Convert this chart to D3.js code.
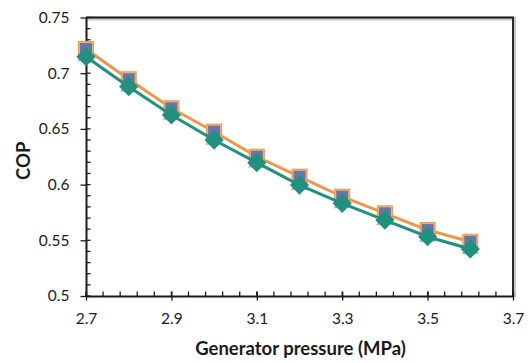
<!DOCTYPE html>
<html><head><meta charset="utf-8">
<script src="https://cdn.jsdelivr.net/npm/d3@7"></script>
<style>body{margin:0;background:#fff}svg{display:block}text{font-family:Lato,"Open Sans",sans-serif;fill:#1a1a1a}</style>
</head><body><svg id="c" width="530" height="363"></svg>
<script>
const pressure = [2.7, 2.8, 2.9, 3.0, 3.1, 3.2, 3.3, 3.4, 3.5, 3.6];
const copOrange = [0.7217, 0.6945, 0.6685, 0.6475, 0.6250, 0.6071, 0.5891, 0.5742, 0.5592, 0.5487];
const copBlue   = [0.7217, 0.6945, 0.6685, 0.6475, 0.6250, 0.6071, 0.5891, 0.5742, 0.5592, 0.5487];
const copGray   = [0.7165, 0.6895, 0.6640, 0.6415, 0.6212, 0.6010, 0.5846, 0.5696, 0.5546, 0.5436];
const copTeal   = [0.7148, 0.6879, 0.6625, 0.6400, 0.6197, 0.5996, 0.5832, 0.5682, 0.5532, 0.5422];
const xTicks = [2.7, 2.9, 3.1, 3.3, 3.5, 3.7];
const yTicks = [0.5, 0.55, 0.6, 0.65, 0.7, 0.75];
const xLabel = "Generator pressure (MPa)";
const yLabel = "COP";

const L = 86, R = 513, T = 17.5, B = 296;
const svg = d3.select("#c");
const x = d3.scaleLinear().domain([2.7, 3.7]).range([L, R]);
const y = d3.scaleLinear().domain([0.5, 0.75]).range([B, T]);

// frame top/right
svg.append("path").attr("d", `M${L},${T}H${R}V${B}`).attr("fill","none").attr("stroke","#c8c8c8").attr("stroke-width",4).attr("transform","translate(1,1)");
svg.append("path").attr("d", `M${L},${T}H${R}V${B}`).attr("fill","none").attr("stroke","#1a1a1a").attr("stroke-width",1.8);

// minor ticks
const xMinor = d3.range(0, 26).map(i => 2.7 + i * 0.04);
svg.append("g").selectAll("line").data(xMinor).join("line")
  .attr("x1", d => x(d)).attr("x2", d => x(d)).attr("y1", B).attr("y2", B - 4.5)
  .attr("stroke", "#1a1a1a").attr("stroke-width", 1.3);
const yMinor = d3.range(0, 26).map(i => 0.5 + i * 0.01);
svg.append("g").selectAll("line").data(yMinor).join("line")
  .attr("x1", L).attr("x2", L + 4.5).attr("y1", d => y(d)).attr("y2", d => y(d))
  .attr("stroke", "#1a1a1a").attr("stroke-width", 1.3);

// axes
const xAxis = svg.append("g").attr("transform", `translate(0,${B})`)
  .call(d3.axisBottom(x).tickValues(xTicks).tickFormat(d3.format(".1f")).tickSizeInner(4.5).tickSizeOuter(0).tickPadding(12));
xAxis.selectAll(".tick line").attr("y1", -4.5).attr("stroke-width", 1.3);
const yAxis = svg.append("g").attr("transform", `translate(${L},0)`)
  .call(d3.axisLeft(y).tickValues(yTicks).tickFormat(d => String(+d.toFixed(2))).tickSizeInner(5.5).tickSizeOuter(0).tickPadding(11));
yAxis.selectAll(".tick line").attr("stroke-width", 1.3);
[xAxis, yAxis].forEach(a => {
  a.select(".domain").attr("stroke", "#1a1a1a").attr("stroke-width", 2);
  a.selectAll("text").style("font-size", "15.5px").attr("fill", "#1a1a1a");
  a.selectAll(".tick line").attr("stroke", "#1a1a1a");
});

// axis titles
svg.append("text").attr("x", (L + R) / 2 + 1).attr("y", 355).attr("text-anchor", "middle")
  .style("font-size", "18.5px").style("font-weight", "bold").text(xLabel);
svg.append("text").attr("transform", `translate(30,${(T + B) / 2 + 4}) rotate(-90)`).attr("text-anchor", "middle")
  .style("font-size", "18.5px").style("font-weight", "bold").text(yLabel);

const line = d3.line().x((d, i) => x(pressure[i])).y(d => y(d));

// gray triangles
const tri = d3.symbol().type(d3.symbolTriangle).size(130);
svg.append("g").selectAll("path").data(copGray).join("path")
  .attr("d", tri).attr("transform", (d, i) => `translate(${x(pressure[i])},${y(d) + 1.5})`)
  .attr("fill", "#b3b3b3");

// orange series
svg.append("path").datum(copOrange).attr("d", line).attr("fill", "none").attr("stroke", "#ee9748").attr("stroke-width", 3);
svg.append("g").selectAll("rect").data(copOrange).join("rect")
  .attr("x", (d, i) => x(pressure[i]) - 7.5).attr("y", d => y(d) - 7.5).attr("width", 15).attr("height", 15)
  .attr("fill", "#f5b27a").attr("stroke", "#ee9748").attr("stroke-width", 1);

// blue squares
svg.append("g").selectAll("rect").data(copBlue).join("rect")
  .attr("x", (d, i) => x(pressure[i]) - 6).attr("y", d => y(d) - 6).attr("width", 12).attr("height", 12)
  .attr("fill", "#6377a8");

// teal series
svg.append("path").datum(copTeal).attr("d", line).attr("fill", "none").attr("stroke", "#21907f").attr("stroke-width", 3);
svg.append("g").selectAll("rect").data(copTeal).join("rect")
  .attr("x", -6.8).attr("y", -6.8).attr("width", 13.6).attr("height", 13.6)
  .attr("transform", (d, i) => `translate(${x(pressure[i])},${y(d)}) rotate(45)`)
  .attr("fill", "#21907f");
</script></body></html>
